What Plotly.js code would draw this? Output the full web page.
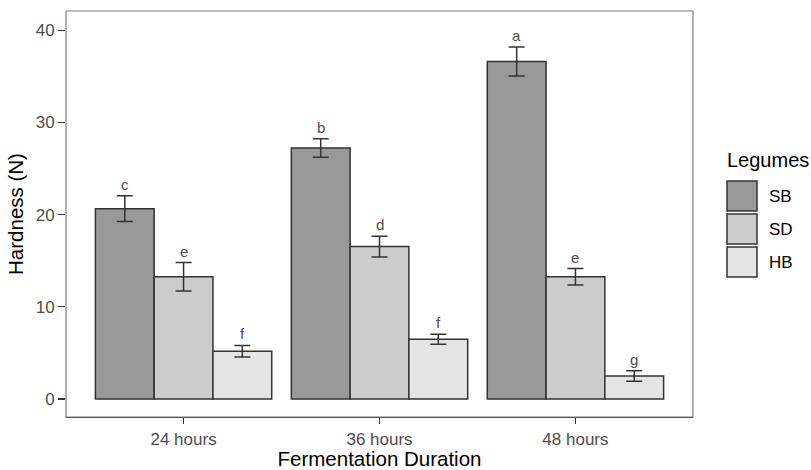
<!DOCTYPE html>
<html><head><meta charset="utf-8">
<script src="https://cdn.plot.ly/plotly-3.0.1.min.js"></script>
<style>html,body{margin:0;padding:0;background:#fff}</style>
</head><body>
<div id="chart" style="width:811px;height:470px"></div>
<script>
const categories = ["24 hours", "36 hours", "48 hours"];
const seriesNames = ["SB", "SD", "HB"];
const sbValues = [20.65, 27.24, 36.62];
const sdValues = [13.26, 16.54, 13.26];
const hbValues = [5.19, 6.49, 2.49];
const sbErr = [1.4, 1.0, 1.57];
const sdErr = [1.55, 1.13, 0.9];
const hbErr = [0.62, 0.54, 0.57];
const sbLetters = ["c", "b", "a"];
const sdLetters = ["e", "d", "e"];
const hbLetters = ["f", "f", "g"];
const yTicks = [0, 10, 20, 30, 40];

const colors = ["#999999", "#cccccc", "#e5e5e5"];
const values = [sbValues, sdValues, hbValues];
const errs = [sbErr, sdErr, hbErr];
const letters = [sbLetters, sdLetters, hbLetters];
const FONT = "Liberation Sans, Arial, sans-serif";

const traces = seriesNames.map((n, k) => ({
  type: "bar", name: n, x: categories, y: values[k],
  marker: {color: colors[k], line: {color: "#333333", width: 1.5}},
  error_y: {type: "data", array: errs[k], visible: true, color: "#333333", thickness: 1.5, width: 8},
  showlegend: false, hoverinfo: "skip"
}));

const L = 66, R = 693, T = 11, B = 417;
const W = 811, H = 470;
const px = x => (x - L) / (R - L);
const py = y => (B - y) / (B - T);

const annotations = [];
const offsets = [-0.3, 0, 0.3];
seriesNames.forEach((n, k) => {
  categories.forEach((c, i) => {
    annotations.push({
      x: i + offsets[k], y: values[k][i] + errs[k][i], xref: "x", yref: "y",
      text: letters[k][i], showarrow: false, yanchor: "bottom", yshift: 1,
      font: {family: FONT, size: 15, color: "#4d4d4d"}
    });
  });
});

const shapes = [{type: "rect", xref: "paper", yref: "paper", x0: 0, x1: 1, y0: 0, y1: 1,
  line: {color: "#7f7f7f", width: 1.2}, fillcolor: "rgba(0,0,0,0)"}];

// legend
annotations.push({xref: "paper", yref: "paper", x: px(725), y: py(160), xanchor: "left", yanchor: "middle",
  text: "Legumes", showarrow: false, font: {family: FONT, size: 20, color: "#000"}});
seriesNames.forEach((n, k) => {
  const top = 181 + k * 33;
  shapes.push({type: "rect", xref: "paper", yref: "paper", x0: px(727), x1: px(757),
    y0: py(top + 30), y1: py(top), fillcolor: colors[k], line: {color: "#333333", width: 1.5}});
  annotations.push({xref: "paper", yref: "paper", x: px(767), y: py(top + 15), xanchor: "left", yanchor: "middle",
    text: n, showarrow: false, font: {family: FONT, size: 17, color: "#000"}});
});

const layout = {
  width: W, height: H,
  margin: {l: L, r: W - R, t: T, b: H - B, pad: 0},
  paper_bgcolor: "#fff", plot_bgcolor: "#fff",
  barmode: "group", bargap: 0.1, bargroupgap: 0,
  font: {family: FONT, color: "#4d4d4d"},
  xaxis: {
    type: "category", range: [-0.6, 2.6], showgrid: false, zeroline: false,
    showline: true, linecolor: "#333333", linewidth: 1.2,
    ticks: "outside", ticklen: 6, tickcolor: "#333333", tickwidth: 1.2,
    tickfont: {size: 17, color: "#4d4d4d"},
    title: {text: "Fermentation Duration", font: {size: 20.5, color: "#000"}, standoff: 2}
  },
  yaxis: {
    range: [-1.95, 42.1], tickvals: yTicks, ticktext: yTicks.map(String),
    showgrid: false, zeroline: false, showline: false,
    ticks: "outside", ticklen: 7, tickcolor: "#333333", tickwidth: 1.2,
    tickfont: {size: 17, color: "#4d4d4d"},
    title: {text: "Hardness (N)", font: {size: 20.5, color: "#000"}, standoff: 6}
  },
  annotations: annotations, shapes: shapes, showlegend: false
};

Plotly.newPlot("chart", traces, layout, {displayModeBar: false, staticPlot: true});
</script>
</body></html>
